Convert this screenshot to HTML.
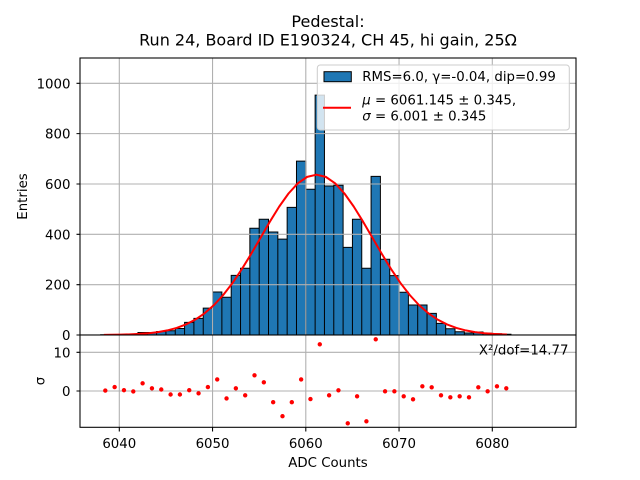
<!DOCTYPE html>
<html><head><meta charset="utf-8"><style>
html,body{margin:0;padding:0;background:#fff;}
svg{display:block;font-family:"DejaVu Sans","Liberation Sans",sans-serif;}
</style></head><body>
<svg width="640" height="480" viewBox="0 0 640 480" xmlns="http://www.w3.org/2000/svg">
<rect x="0" y="0" width="640" height="480" fill="#fff"/>
<text x="328" y="27" font-size="16" text-anchor="middle" fill="#000">Pedestal:</text>
<text x="328" y="45.5" font-size="16" text-anchor="middle" fill="#000">Run 24, Board ID E190324, CH 45, hi gain, 25Ω</text>

<rect x="80" y="58" width="496" height="277" fill="#fff"/>
<path fill="#1f77b4" stroke="#000" stroke-width="1" d="M100.65 335V334.75H109.98V335Z M109.98 335V334.5H119.3V335Z M119.3 335V334.5H128.63V335Z M128.63 335V334.24H137.95V335Z M137.95 335V332.48H147.28V335Z M147.28 335V332.48H156.6V335Z M156.6 335V331.48H165.93V335Z M165.93 335V330.72H175.25V335Z M175.25 335V328.46H184.58V335Z M184.58 335V322.41H193.9V335Z M193.9 335V318.39H203.23V335Z M203.23 335V308.07H212.55V335Z M212.55 335V291.96H221.88V335Z M221.88 335V297.24H231.2V335Z M231.2 335V275.35H240.53V335Z M240.53 335V268.3H249.85V335Z M249.85 335V228.28H259.18V335Z M259.18 335V219.22H268.5V335Z M268.5 335V232.05H277.83V335Z M277.83 335V239.1H287.15V335Z M287.15 335V207.39H296.48V335Z M296.48 335V161.08H305.8V335Z M305.8 335V189.27H315.13V335Z M315.13 335V95.13H324.45V335Z M324.45 335V186H333.78V335Z M333.78 335V185.24H343.1V335Z M343.1 335V247.41H352.43V335Z M352.43 335V219.22H361.75V335Z M361.75 335V268.3H371.08V335Z M371.08 335V176.43H380.4V335Z M380.4 335V259.24H389.73V335Z M389.73 335V275.6H399.05V335Z M399.05 335V292.21H408.38V335Z M408.38 335V305.05H417.7V335Z M417.7 335V305.05H427.03V335Z M427.03 335V313.35H436.35V335Z M436.35 335V323.42H445.68V335Z M445.68 335V328.71H455V335Z M455 335V331.73H464.33V335Z M464.33 335V332.99H473.65V335Z M473.65 335V331.98H482.98V335Z M482.98 335V333.24H492.3V335Z M492.3 335V333.74H501.63V335Z M501.63 335V334.24H510.95V335Z"/>
<path fill="none" stroke="#b0b0b0" stroke-width="1.07" d="M119.3 58V335 M212.55 58V335 M305.8 58V335 M399.05 58V335 M492.3 58V335 M80 284.66H576 M80 234.32H576 M80 183.98H576 M80 133.64H576 M80 83.3H576"/>
<polyline fill="none" stroke="#ff0000" stroke-width="2" stroke-linejoin="round" points="103.87,334.89 111.33,334.81 120.65,334.65 129.98,334.38 139.30,333.93 148.63,333.22 157.95,332.10 167.28,330.42 176.60,327.95 185.93,324.45 195.26,319.66 204.58,313.29 213.91,305.12 223.23,295.00 232.56,282.93 241.88,269.07 251.21,253.81 260.53,237.74 269.86,221.69 279.18,206.61 288.51,193.51 297.83,183.33 307.16,176.88 316.48,174.67 325.81,176.88 335.13,183.33 344.46,193.51 353.78,206.61 363.11,221.69 372.43,237.74 381.76,253.81 391.08,269.07 400.41,282.93 409.73,295.00 419.06,305.12 428.38,313.29 437.71,319.66 447.03,324.45 456.36,327.95 465.68,330.42 475.01,332.10 484.33,333.22 493.66,333.93 502.98,334.38 507.0,334.55"/>
<rect x="317.3" y="65" width="252" height="65" rx="3" ry="3" fill="#fff" fill-opacity="0.8" stroke="#cccccc" stroke-width="1"/>
<rect x="324" y="71.7" width="27.3" height="10" fill="#1f77b4" stroke="#000" stroke-width="1"/>
<line x1="323" y1="107.7" x2="351" y2="107.7" stroke="#ff0000" stroke-width="2"/>
<text x="362.3" y="81" font-size="13.33" fill="#000">RMS=6.0, γ=-0.04, dip=0.99</text>
<text x="362.3" y="104.5" font-size="13.33" fill="#000"><tspan font-style="italic">μ</tspan> = 6061.145 ± 0.345,</text>
<text x="362.3" y="120.5" font-size="13.33" fill="#000"><tspan font-style="italic">σ</tspan> = 6.001 ± 0.345</text>
<rect x="80" y="58" width="496" height="277" fill="none" stroke="#000" stroke-width="1.07"/>
<path stroke="#000" stroke-width="1.07" d="M76.5 335H80 M76.5 284.66H80 M76.5 234.32H80 M76.5 183.98H80 M76.5 133.64H80 M76.5 83.3H80"/>
<g font-size="13.33" text-anchor="end" fill="#000">
<text x="70.5" y="340">0</text>
<text x="70.5" y="289.7">200</text>
<text x="70.5" y="239.3">400</text>
<text x="70.5" y="189">600</text>
<text x="70.5" y="138.6">800</text>
<text x="70.5" y="88.3">1000</text>
</g>
<text transform="translate(27 196.5) rotate(-90)" font-size="13.33" text-anchor="middle" fill="#000">Entries</text>

<rect x="80" y="335.5" width="496" height="91.8" fill="#fff"/>
<path fill="none" stroke="#b0b0b0" stroke-width="1.07" d="M119.3 335V427.3 M212.55 335V427.3 M305.8 335V427.3 M399.05 335V427.3 M492.3 335V427.3 M80 391H576 M80 352.3H576"/>
<path fill="none" stroke="#ff0000" stroke-width="4.4" stroke-linecap="round" d="M105.31 390.6h0 M114.64 387.1h0 M123.96 390.2h0 M133.29 391.4h0 M142.61 383.3h0 M151.94 388.3h0 M161.26 389.5h0 M170.59 394.5h0 M179.91 394.5h0 M189.24 390.2h0 M198.56 393.3h0 M207.89 387.1h0 M217.21 379.4h0 M226.54 398.4h0 M235.86 388.3h0 M245.19 395.3h0 M254.51 375.3h0 M263.84 382.3h0 M273.16 402.2h0 M282.49 416.2h0 M291.81 402.2h0 M301.14 379.4h0 M310.46 399.1h0 M319.79 344.3h0 M329.11 395.3h0 M338.44 390.3h0 M347.76 423.3h0 M357.09 396.3h0 M366.41 421.3h0 M375.74 339.3h0 M385.06 391.3h0 M394.39 391.3h0 M403.71 396.3h0 M413.04 399.3h0 M422.36 386.3h0 M431.69 387.3h0 M441.01 395.3h0 M450.34 397.3h0 M459.66 396.3h0 M468.99 397.3h0 M478.31 387.3h0 M487.64 391.3h0 M496.96 386.3h0 M506.29 388.3h0"/>
<text x="568.5" y="354.5" font-size="13.33" text-anchor="end" fill="#000">X²/dof=14.77</text>
<rect x="80" y="335" width="496" height="92.3" fill="none" stroke="#000" stroke-width="1.07"/>
<path stroke="#000" stroke-width="1.07" d="M76.5 391H80 M76.5 352.3H80 M119.3 427.3V431.5 M212.55 427.3V431.5 M305.8 427.3V431.5 M399.05 427.3V431.5 M492.3 427.3V431.5"/>
<g font-size="13.33" text-anchor="end" fill="#000">
<text x="70.5" y="396">0</text>
<text x="70.5" y="357.3">10</text>
</g>
<g font-size="13.33" text-anchor="middle" fill="#000">
<text x="119.3" y="448">6040</text>
<text x="212.55" y="448">6050</text>
<text x="305.8" y="448">6060</text>
<text x="399.05" y="448">6070</text>
<text x="492.3" y="448">6080</text>
</g>
<text x="328" y="467" font-size="13.33" text-anchor="middle" fill="#000">ADC Counts</text>
<text transform="translate(44.5 381) rotate(-90)" font-size="13.33" text-anchor="middle" fill="#000">σ</text>
</svg>
</body></html>
